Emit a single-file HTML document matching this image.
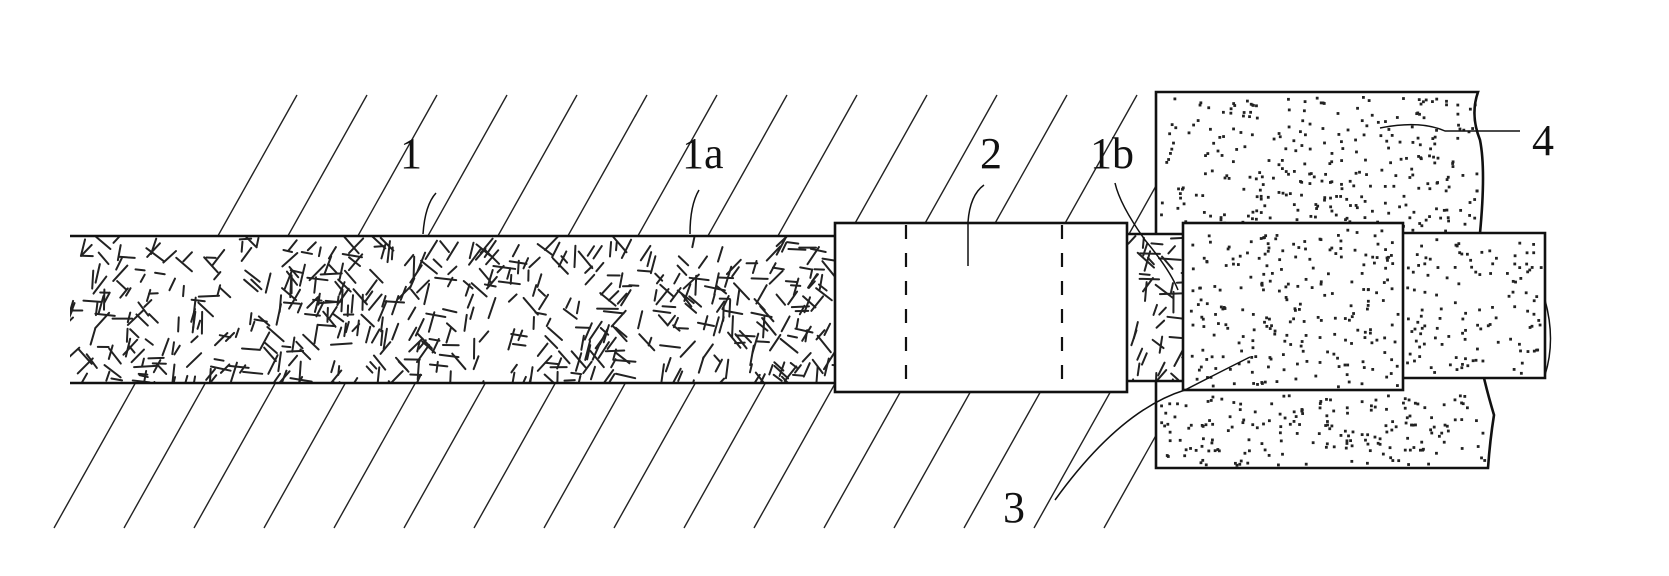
<!DOCTYPE html>
<html><head><meta charset="utf-8">
<style>
html,body{margin:0;padding:0;background:#fff;}
svg{display:block;}
text{font-family:"Liberation Serif",serif;fill:#111;}
</style></head>
<body>
<svg id="s" width="1669" height="576" viewBox="0 0 1669 576" xmlns="http://www.w3.org/2000/svg">
<defs>
<clipPath id="rod1"><rect x="70" y="236" width="765" height="147"/></clipPath>
<clipPath id="rodb"><rect x="1128" y="234" width="56" height="147"/></clipPath>
</defs>
<g id="hatch" stroke="#222" stroke-width="1.4" fill="none"></g>
<rect x="1156" y="92" width="330" height="376" fill="#fff"/>
<rect x="70" y="236" width="765" height="147" fill="#fff"/>
<rect x="1126" y="234" width="60" height="147" fill="#fff"/>
<rect x="835" y="223" width="294" height="169" fill="#fff"/>
<g id="fib" stroke="#222" stroke-width="2" stroke-linecap="round" clip-path="url(#rod1)"></g>
<g id="fibb" stroke="#222" stroke-width="2" stroke-linecap="round" clip-path="url(#rodb)"></g>
<g id="dots" fill="#222"></g>
<g stroke="#111" stroke-width="2.6" fill="none">
<path d="M70 236 H835 M70 383 H835"/>
<rect x="835" y="223" width="292" height="169" fill="none"/>
<path d="M1127 234 H1184 M1127 381 H1184"/>
<path d="M1156 234 V92 H1478 Q1470 115 1480 140 Q1486 170 1480 233"/>
<path d="M1156 381 V468 H1488 Q1490 440 1494 415 Q1488 395 1484 378"/>
<rect x="1183" y="223" width="220" height="167" fill="#fff"/>
<path d="M1403 233 H1545 V378 H1403"/>
</g>
<g id="dots2" fill="#222"></g>
<g stroke="#111" stroke-width="2.2" stroke-dasharray="14 14" fill="none">
<path d="M906 225 V392 M1062 225 V392"/>
</g>
<g stroke="#111" stroke-width="1.5" fill="none">
<path d="M423 234 Q425 205 436 193"/>
<path d="M690 234 Q690 205 699 190"/>
<path d="M968 266 L968 222 Q970 195 984 185"/>
<path d="M1115 183 Q1120 205 1145 240 Q1170 270 1178 290"/>
<path d="M1055 500 Q1120 410 1185 390 Q1220 372 1250 357"/>
<path d="M1380 128 Q1420 120 1445 131 L1520 131"/>
<path d="M1545 300 Q1556 340 1545 375"/>
</g>
<text x="400" y="168" font-size="44">1</text>
<text x="682" y="168" font-size="44">1a</text>
<text x="980" y="168" font-size="44">2</text>
<text x="1090" y="168" font-size="44">1b</text>
<text x="1532" y="155" font-size="44">4</text>
<text x="1003" y="522" font-size="44">3</text>
</svg>
<script>
(function(){
var ns="http://www.w3.org/2000/svg";
var seed=12345;function r(){seed=(seed*16807)%2147483647;return seed/2147483647;}
function line(g,x1,y1,x2,y2){var l=document.createElementNS(ns,"line");l.setAttribute("x1",x1);l.setAttribute("y1",y1);l.setAttribute("x2",x2);l.setAttribute("y2",y2);g.appendChild(l);}
var h=document.getElementById("hatch");
for(var k=0;k<16;k++){var xt=297+70*k;line(h,xt,95,xt-243,528);}
function fib(g,x0,x1){for(var i=0;i<(x1-x0)*0.75;i++){var x=x0+r()*(x1-x0),y=236+r()*147;var a=[Math.PI/2+0.15,Math.PI*0.72,Math.PI*0.25,0.08,Math.PI*0.62][Math.floor(r()*5)]+(r()-0.5)*0.3;var L=8+r()*14;line(g,x,y,x+Math.cos(a)*L,y+Math.sin(a)*L);}}
fib(document.getElementById("fib"),70,835);
fib(document.getElementById("fibb"),1128,1184);
function dots(g,x0,y0,x1,y1,n){for(var i=0;i<n;i++){var c=document.createElementNS(ns,"rect");c.setAttribute("x",x0+r()*(x1-x0));c.setAttribute("y",y0+r()*(y1-y0));c.setAttribute("width",2.8);c.setAttribute("height",2.8);g.appendChild(c);}}
var d=document.getElementById("dots");
dots(d,1160,96,1476,230,300);dots(d,1160,394,1484,464,190);dots(d,1406,238,1540,374,120);
dots(document.getElementById("dots2"),1187,228,1399,386,230);
})();
</script>
</body></html>
